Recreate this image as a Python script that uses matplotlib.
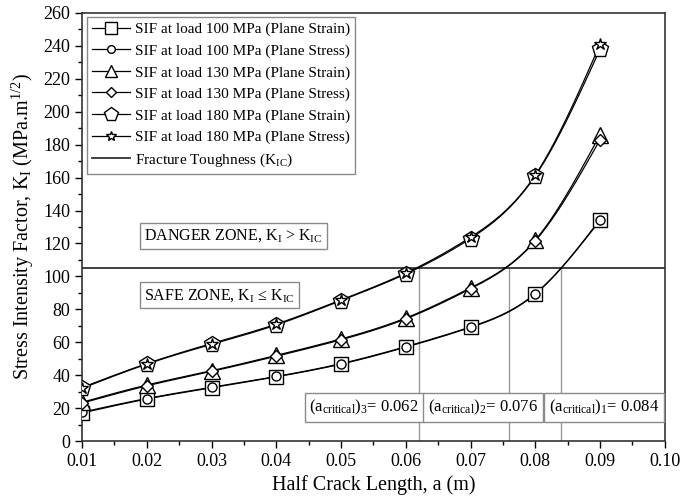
import numpy as np
import matplotlib
matplotlib.use("Agg")
import matplotlib.pyplot as plt
from matplotlib.ticker import MultipleLocator, FormatStrFormatter

plt.rcParams["font.family"] = ["Liberation Serif", "DejaVu Serif"]
plt.rcParams["mathtext.fontset"] = "custom"
plt.rcParams["mathtext.rm"] = "Liberation Serif"
plt.rcParams["mathtext.it"] = "Liberation Serif:italic"

# Half crack length (m)
crack_length = [0.01, 0.02, 0.03, 0.04, 0.05, 0.06, 0.07, 0.08, 0.09]

# Stress intensity factors (MPa.m^1/2)
sif_100_strain = [17.0, 25.5, 32.3, 39.0, 46.7, 57.0, 69.0, 89.3, 134.5]
sif_100_stress = [17.5, 25.8, 32.6, 39.2, 47.0, 57.3, 69.3, 89.5, 134.0]
sif_130_strain = [23.5, 34.0, 42.7, 52.0, 62.0, 74.7, 93.0, 122.0, 186.0]
sif_130_stress = [23.0, 33.5, 42.3, 51.5, 61.5, 74.2, 92.5, 121.5, 183.0]
sif_180_strain = [32.0, 46.7, 58.7, 70.5, 85.3, 101.5, 123.0, 161.0, 238.0]
sif_180_stress = [32.5, 47.0, 59.2, 71.0, 85.7, 102.0, 123.8, 161.5, 241.0]

fracture_toughness = 105.0
critical_lengths = [0.062, 0.076, 0.084]
critical_labels = [r"(a$_{\mathrm{critical}}$)$_{3}$= 0.062",
                   r"(a$_{\mathrm{critical}}$)$_{2}$= 0.076",
                   r"(a$_{\mathrm{critical}}$)$_{1}$= 0.084"]

series_labels = ["SIF at load 100 MPa (Plane Strain)",
                 "SIF at load 100 MPa (Plane Stress)",
                 "SIF at load 130 MPa (Plane Strain)",
                 "SIF at load 130 MPa (Plane Stress)",
                 "SIF at load 180 MPa (Plane Strain)",
                 "SIF at load 180 MPa (Plane Stress)"]


def smooth_curve(x, y, n=300):
    """Natural cubic spline through the given points, for drawing."""
    x = np.asarray(x, float)
    y = np.asarray(y, float)
    h = np.diff(x)
    m = len(x)
    A = np.zeros((m, m))
    r = np.zeros(m)
    A[0, 0] = A[-1, -1] = 1.0
    for i in range(1, m - 1):
        A[i, i - 1] = h[i - 1]
        A[i, i] = 2 * (h[i - 1] + h[i])
        A[i, i + 1] = h[i]
        r[i] = 3 * ((y[i + 1] - y[i]) / h[i] - (y[i] - y[i - 1]) / h[i - 1])
    c = np.linalg.solve(A, r)
    b = (y[1:] - y[:-1]) / h - h * (2 * c[:-1] + c[1:]) / 3
    d = (c[1:] - c[:-1]) / (3 * h)
    xs = np.linspace(x[0], x[-1], n)
    idx = np.clip(np.searchsorted(x, xs) - 1, 0, m - 2)
    dx = xs - x[idx]
    ys = y[idx] + b[idx] * dx + c[idx] * dx ** 2 + d[idx] * dx ** 3
    return xs, ys


fig = plt.figure(figsize=(6.8, 5.0), dpi=100)
ax = fig.add_axes([0.1206, 0.118, 0.857, 0.856])

series = [sif_100_strain, sif_100_stress, sif_130_strain,
          sif_130_stress, sif_180_strain, sif_180_stress]
markers = ["s", "o", "^", "D", "p", "*"]
sizes = [10, 6.5, 11, 6.5, 12, 9]

handles = []
for vals, mk, ms, lab in zip(series, markers, sizes, series_labels):
    xs, ys = smooth_curve(crack_length, vals)
    ax.plot(xs, ys, color="black", lw=0.9, zorder=2)
    ax.plot(crack_length, vals, linestyle="none", marker=mk, ms=ms,
            mfc="white", mec="black", mew=1.0, zorder=3)
    h, = ax.plot([], [], color="black", lw=0.9, marker=mk, ms=ms,
                 mfc="white", mec="black", mew=1.0, label=lab)
    handles.append(h)

kic = ax.axhline(fracture_toughness, color="#333333", lw=1.3, zorder=1.5,
                 label=r"Fracture Toughness (K$_{\mathrm{IC}}$)")
handles.append(kic)

for xc in critical_lengths:
    ax.plot([xc, xc], [0, fracture_toughness], color="#9a9a9a", lw=1.0, zorder=1)

box = dict(boxstyle="square,pad=0.28", fc="white", ec="#8a8a8a", lw=1.0)
label_x = [0.0536, 0.0719, 0.0906]
for xc, txt in zip(label_x, critical_labels):
    ax.text(xc, 20.5, txt, ha="center", va="center", fontsize=12,
            bbox=box, zorder=4)

ax.text(0.0196, 124.5, r"DANGER ZONE, K$_{\mathrm{I}}$ > K$_{\mathrm{IC}}$",
        ha="left", va="center", fontsize=11.5, bbox=box, zorder=4)
ax.text(0.0196, 88.5, r"SAFE ZONE, K$_{\mathrm{I}}$ ≤ K$_{\mathrm{IC}}$",
        ha="left", va="center", fontsize=11.5, bbox=box, zorder=4)

ax.set_xlim(0.01, 0.10)
ax.set_ylim(0, 260)
ax.xaxis.set_major_locator(MultipleLocator(0.01))
ax.xaxis.set_minor_locator(MultipleLocator(0.005))
ax.yaxis.set_major_locator(MultipleLocator(20))
ax.yaxis.set_minor_locator(MultipleLocator(10))
ax.xaxis.set_major_formatter(FormatStrFormatter("%.2f"))
ax.tick_params(which="major", direction="out", length=5, width=1.0,
               labelsize=13, top=False, right=False)
ax.tick_params(which="minor", direction="out", length=3, width=1.0,
               top=False, right=False)
for sp in ax.spines.values():
    sp.set_color("#333333")
    sp.set_linewidth(1.2)

ax.set_xlabel("Half Crack Length, a (m)", fontsize=14.5, labelpad=4)
ax.set_ylabel(r"Stress Intensity Factor, K$_{\mathrm{I}}$ (MPa.m$^{1/2}$)",
              fontsize=14.5, labelpad=5)

leg = ax.legend(handles=handles, loc="upper left", bbox_to_anchor=(0.008, 0.99),
                borderaxespad=0, fontsize=11, frameon=True, fancybox=False,
                edgecolor="#8a8a8a", framealpha=1, labelspacing=0.5,
                handlelength=2.5, handletextpad=0.3, borderpad=0.35,
                markerscale=0.85)
leg.get_frame().set_linewidth(1.0)
leg.set_zorder(5)

fig.savefig("out.png", dpi=100)
